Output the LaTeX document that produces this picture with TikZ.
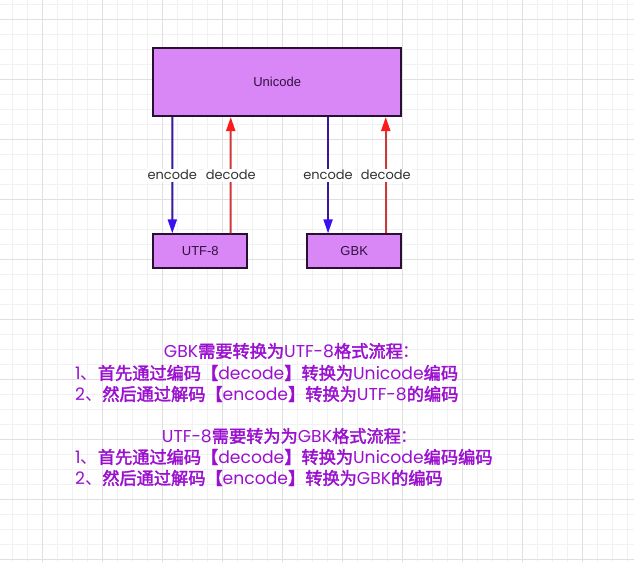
\documentclass[tikz,border=0pt]{standalone}
\usepackage{fontspec}
\setmainfont{Liberation Sans}
\newfontfamily\geofont{Poppins}
\newfontfamily\cjkfont{Noto Sans CJK SC}
\newfontfamily\cjkboldfont[FakeBold=2.2]{Noto Sans CJK SC}
\usetikzlibrary{arrows.meta}
\definecolor{gridminor}{HTML}{F2F2F2}
\definecolor{gridmajor}{HTML}{E0E0E0}
\definecolor{boxfill}{HTML}{D987F7}
\definecolor{boxline}{HTML}{2A1030}
\definecolor{boxtext}{HTML}{33103F}
\definecolor{encline}{HTML}{35189C}
\definecolor{enctip}{HTML}{3C10EE}
\definecolor{decline}{HTML}{D03838}
\definecolor{dectip}{HTML}{FF1A1A}
\definecolor{notetext}{HTML}{9B10D0}
\newcommand\myzh[1]{{\cjkboldfont #1}}
\newcommand\myzl[1]{{\cjkfont #1}}
\newcommand\mylat[1]{{\geofont #1}}
\begin{document}
\begin{tikzpicture}[x=1pt,y=-1pt,
  box/.style={draw=boxline, line width=2pt, fill=boxfill, text=boxtext,
    font=\fontsize{13}{15}\selectfont, inner sep=0pt},
  encarrow/.style={draw=encline, line width=2pt,
    -{Triangle[length=14pt,width=9pt,color=enctip]}},
  decarrow/.style={draw=decline, line width=2pt,
    -{Triangle[length=14pt,width=9pt,color=dectip]}},
  lbl/.style={fill=white, inner sep=1.5pt, text=black!80,
    font=\geofont\fontsize{13}{15}\selectfont},
  note/.style={inner sep=0pt, text=notetext,
    font=\fontsize{17.2}{20}\selectfont}
]
\useasboundingbox (0,0) rectangle (634,562);
\fill[white] (0,0) rectangle (634,562);
% grid
\foreach \gx in {12.4,27.4,...,634} {\draw[gridminor, line width=1pt] (\gx,0) -- (\gx,562);}
\foreach \gy in {4.3,19.3,...,562} {\draw[gridminor, line width=1pt] (0,\gy) -- (634,\gy);}
\foreach \gx in {42.4,102.4,...,634} {\draw[gridmajor, line width=1pt] (\gx,0) -- (\gx,562);}
\foreach \gy in {19.3,79.3,...,562} {\draw[gridmajor, line width=1pt] (0,\gy) -- (634,\gy);}
% boxes
\node[box, minimum width=247.7pt, minimum height=67.7pt] (uni) at (277.2,82.2) {Unicode};
\node[box, minimum width=94pt, minimum height=34pt] (utf) at (200.3,251.3) {UTF-8};
\node[box, minimum width=93.7pt, minimum height=34pt] (gbk) at (354.2,251.3) {GBK};
% arrows
\draw[encarrow] ([xshift=20pt]uni.south west) -- node[lbl]{encode} ([xshift=20pt]utf.north west);
\draw[decarrow] ([xshift=78.4pt]utf.north west) -- node[lbl]{decode} ([xshift=78.4pt]uni.south west);
\draw[encarrow] ([xshift=175.7pt]uni.south west) -- node[lbl]{encode} ([xshift=21.7pt]gbk.north west);
\draw[decarrow] ([xshift=79.4pt]gbk.north west) -- node[lbl]{decode} ([xshift=233.4pt]uni.south west);
% notes
\node[note] (t1) at (292,351) {\mylat{GBK}\myzh{需要转换为}\mylat{UTF-8}\myzh{格式流程}\myzl{：}};
\node[note, anchor=west] (t2) at (75,373) {\mylat{1}\myzl{、}\myzh{首先通过编码【}\mylat{decode}\myzh{】转换为}\mylat{Unicode}\myzh{编码}};
\node[note, anchor=west] (t3) at (75,394) {\mylat{2}\myzl{、}\myzh{然后通过解码【}\mylat{encode}\myzh{】转换为}\mylat{UTF-8}\myzh{的编码}};
\node[note] (t4) at (290,436) {\mylat{UTF-8}\myzh{需要转为为}\mylat{GBK}\myzh{格式流程}\myzl{：}};
\node[note, anchor=west] (t5) at (75,457) {\mylat{1}\myzl{、}\myzh{首先通过编码【}\mylat{decode}\myzh{】转换为}\mylat{Unicode}\myzh{编码编码}};
\node[note, anchor=west] (t6) at (75,478) {\mylat{2}\myzl{、}\myzh{然后通过解码【}\mylat{encode}\myzh{】转换为}\mylat{GBK}\myzh{的编码}};
\end{tikzpicture}
\end{document}
